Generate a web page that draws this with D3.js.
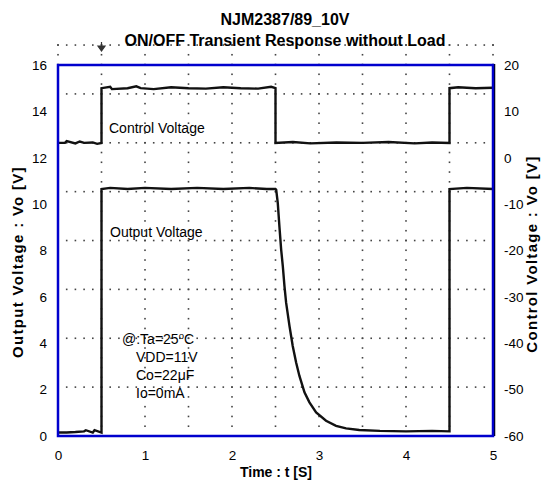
<!DOCTYPE html>
<html><head><meta charset="utf-8">
<script src="https://cdn.jsdelivr.net/npm/d3@7"></script>
<style>
html,body{margin:0;padding:0;background:#fff;}
svg{display:block;font-family:"Liberation Sans",Arial,sans-serif;}
</style></head>
<body>
<svg id="c" width="544" height="482"></svg>
<script>
// ---- data ----
const titleLines = ["NJM2387/89_10V", "ON/OFF Transient Response without Load"];
const xTicks = [0, 1, 2, 3, 4, 5];
const yLeftTicks = [0, 2, 4, 6, 8, 10, 12, 14, 16];
const yRightTicks = [-60, -50, -40, -30, -20, -10, 0, 10, 20];
// oscilloscope graticule (time divisions, voltage divisions on left scale)
const gridT = [0, 0.5, 1, 1.5, 2, 2.5, 3, 3.5, 4, 4.5, 5];
const gridV = [0, 2.108, 4.215, 6.323, 8.43, 10.538, 12.645, 14.753, 16.86];
// Control voltage (right axis) [t, V]
const controlT = [0, 0.08, 0.1, 0.2, 0.25, 0.3, 0.4, 0.45, 0.5, 0.5, 0.6, 0.62, 0.8, 0.9, 0.95, 1.1, 1.3, 1.5, 1.7, 1.9, 2.1, 2.3, 2.45, 2.5, 2.5, 2.7, 2.9, 3.2, 3.5, 3.8, 4.1, 4.3, 4.5, 4.5, 4.6, 4.8, 5];
const controlV = [3.2, 3.2, 3.6, 3.1, 3.5, 3.2, 3.3, 3.0, 3.2, 15.0, 15.3, 14.8, 15.0, 15.4, 15.0, 14.8, 15.2, 15.0, 14.9, 15.2, 15.0, 14.9, 15.3, 15.0, 3.2, 3.4, 3.1, 3.3, 3.2, 3.4, 3.1, 3.3, 3.2, 15.0, 15.2, 15.0, 15.1];
// Output voltage (left axis) [t, V]
const outputT = [0, 0.1, 0.2, 0.3, 0.32, 0.4, 0.42, 0.5, 0.5, 0.6, 0.8, 1.0, 1.3, 1.6, 1.9, 2.2, 2.4, 2.5, 2.508, 2.526, 2.546, 2.565, 2.584, 2.603, 2.622, 2.661, 2.698, 2.737, 2.775, 2.833, 2.89, 2.967, 3.081, 3.196, 3.311, 3.463, 3.7, 4.0, 4.3, 4.5, 4.5, 4.7, 5];
const outputV = [0.15, 0.15, 0.17, 0.2, 0.25, 0.15, 0.25, 0.15, 10.65, 10.7, 10.65, 10.7, 10.65, 10.7, 10.65, 10.7, 10.65, 10.65, 10.62, 10.05, 8.99, 8.04, 7.33, 6.46, 5.75, 4.74, 3.88, 3.17, 2.59, 1.88, 1.45, 1.02, 0.66, 0.44, 0.33, 0.26, 0.22, 0.2, 0.22, 0.2, 10.65, 10.7, 10.65];
const notes = ["@:Ta=25", "VDD=11V", "Co=22\u03BCF", "Io=0mA"];

// ---- layout ----
const svg = d3.select("#c");
const x = d3.scaleLinear().domain([0, 5]).range([58, 493]);
const yL = d3.scaleLinear().domain([0, 16]).range([436, 65]);
const yR = d3.scaleLinear().domain([-60, 20]).range([436, 65]);

// graticule dots
const dotFill = "#444";
const tMinor = d3.range(0, 5.0001, 0.1);
const vMinor = d3.range(0, 16.87, 2.108 / 5);
const dots = [];
gridV.forEach(v => tMinor.forEach(t => dots.push([x(t), yL(v)])));
gridT.forEach(t => vMinor.forEach(v => dots.push([x(t), yL(v)])));
svg.append("g").selectAll("rect").data(dots).join("rect")
  .attr("x", d => d[0] - 0.8).attr("y", d => d[1] - 0.8)
  .attr("width", 1.6).attr("height", 1.6).attr("fill", dotFill);

// trigger marker
const mx = x(0.5), my = yL(16.86);
svg.append("path")
  .attr("d", `M${mx},${my - 3}L${mx},${my + 2}M${mx - 3.5},${my + 1}L${mx + 3.5},${my + 1}L${mx},${my + 6}Z`)
  .attr("stroke", "#333").attr("stroke-width", 1.2).attr("fill", "#333");

// traces
const line = (xs, ys, sy) => d3.line().x((d, i) => x(xs[i])).y((d, i) => sy(ys[i]))(xs);
svg.append("path").attr("d", line(controlT, controlV, yR))
  .attr("fill", "none").attr("stroke", "#111").attr("stroke-width", 2.4);
svg.append("path").attr("d", line(outputT, outputV, yL))
  .attr("fill", "none").attr("stroke", "#111").attr("stroke-width", 2.4);

// frame
svg.append("line").attr("x1", 494.5).attr("x2", 494.5).attr("y1", 64).attr("y2", 436)
  .attr("stroke", "#000").attr("stroke-width", 1.5);
svg.append("rect").attr("x", x(0)).attr("y", yL(16)).attr("width", x(5) - x(0)).attr("height", yL(0) - yL(16))
  .attr("fill", "none").attr("stroke", "#0000cd").attr("stroke-width", 2.5);

// axes
const fs = "13.5px";
const axL = svg.append("g").attr("transform", `translate(${x(0) - 11},0)`)
  .call(d3.axisLeft(yL).tickValues(yLeftTicks).tickSize(0).tickPadding(0));
const axR = svg.append("g").attr("transform", `translate(${x(5) + 11},0)`)
  .call(d3.axisRight(yR).tickValues(yRightTicks).tickSize(0).tickPadding(0).tickFormat(d3.format("d")));
const axB = svg.append("g").attr("transform", `translate(0,${yL(0) + 14})`)
  .call(d3.axisBottom(x).tickValues(xTicks).tickSize(0).tickPadding(0).tickFormat(d3.format("d")));
[axL, axR, axB].forEach(a => {
  a.select(".domain").remove();
  a.selectAll("text").attr("font-size", fs).attr("fill", "#000")
    .attr("font-family", "Liberation Sans, Arial, sans-serif");
});
axR.selectAll("text").text(d => d < 0 ? "-" + Math.abs(d) : d);

// titles
svg.append("g").selectAll("text").data(titleLines).join("text")
  .attr("x", 285).attr("y", (d, i) => 25 + i * 21)
  .attr("text-anchor", "middle").attr("font-size", "16px").attr("font-weight", "bold")
  .text(d => d);
svg.append("text").attr("x", 276).attr("y", 477).attr("text-anchor", "middle")
  .attr("font-size", "14px").attr("font-weight", "bold").text("Time : t [S]");
svg.append("text").attr("transform", "translate(23,262) rotate(-90)").attr("text-anchor", "middle")
  .attr("font-size", "15px").attr("font-weight", "bold").attr("letter-spacing", "1.3px")
  .text("Output Voltage : Vo [V]");
svg.append("text").attr("transform", "translate(537,254) rotate(-90)").attr("text-anchor", "middle")
  .attr("font-size", "15px").attr("font-weight", "bold").attr("letter-spacing", "1.3px")
  .text("Control Voltage : Vo [V]");

// annotations
svg.append("text").attr("x", 109).attr("y", 133).attr("font-size", "14px").text("Control Voltage");
svg.append("text").attr("x", 110).attr("y", 237).attr("font-size", "14px").text("Output Voltage");
const nt = svg.append("g").attr("font-size", "14px");
notes.forEach((s, i) => {
  const t = nt.append("text").attr("x", i === 0 ? 122 : 136).attr("y", 344 + i * 18).text(s);
  if (i === 0) {
    t.append("tspan").attr("dy", -5).attr("font-size", "9.5px").text("o");
    t.append("tspan").attr("dy", 5).text("C");
  }
});
</script>
</body></html>
